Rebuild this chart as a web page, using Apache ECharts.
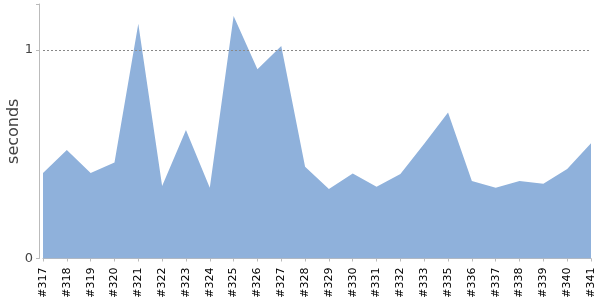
<!DOCTYPE html>
<html>
<head>
<meta charset="utf-8">
<script src="https://cdn.jsdelivr.net/npm/echarts@6/dist/echarts.min.js"></script>
<style>html,body{margin:0;padding:0;background:#fff}#c{width:600px;height:300px}</style>
</head>
<body>
<div id="c"></div>
<script>
const builds = ['#317','#318','#319','#320','#321','#322','#323','#324','#325','#326','#327','#328','#329','#330','#331','#332','#333','#335','#336','#337','#338','#339','#340','#341'];
const seconds = [0.41,0.52,0.41,0.46,1.125,0.347,0.616,0.339,1.163,0.907,1.019,0.44,0.333,0.408,0.344,0.405,0.55,0.70,0.372,0.339,0.371,0.358,0.429,0.553];
const yTicks = [0, 1];

const chart = echarts.init(document.getElementById('c'), null, {renderer: 'canvas'});
chart.setOption({
  animation: false,
  grid: {left: 43, right: 9, top: 4, bottom: 41.5, containLabel: false, outerBoundsMode: 'none'},
  xAxis: {
    type: 'category',
    data: builds,
    boundaryGap: false,
    offset: 5,
    axisLine: {lineStyle: {color: '#bbbbbb', width: 1}},
    axisTick: {show: true, length: 3, lineStyle: {color: '#bbbbbb'}, alignWithLabel: true},
    axisLabel: {rotate: 90, fontFamily: 'DejaVu Sans', fontSize: 11, color: '#000', margin: 4, interval: 0},
    splitLine: {show: false}
  },
  yAxis: {
    type: 'value',
    min: 0,
    max: 1.22,
    interval: 1,
    offset: 4,
    name: 'seconds',
    nameLocation: 'middle',
    nameGap: 17,
    nameMoveOverlap: false,
    nameRotate: 90,
    nameTextStyle: {fontFamily: 'DejaVu Sans', fontSize: 16, color: '#444'},
    axisLine: {show: true, lineStyle: {color: '#bbbbbb', width: 1}},
    axisTick: {show: true, length: 3, lineStyle: {color: '#bbbbbb'}},
    axisLabel: {
      fontFamily: 'DejaVu Sans', fontSize: 13, color: '#444', margin: 6, padding: [3, 0, 0, 0],
      formatter: v => (yTicks.indexOf(v) >= 0 ? String(v) : '')
    },
    splitLine: {show: false}
  },
  series: [{
    type: 'line',
    data: seconds,
    symbol: 'none',
    lineStyle: {width: 0},
    areaStyle: {color: '#8fb1db', opacity: 1},
    markLine: {
      silent: true,
      symbol: ['none', 'none'],
      label: {show: false},
      lineStyle: {color: '#888', type: [2, 2], width: 1},
      data: [{yAxis: 1}]
    }
  }]
});
</script>
</body>
</html>
